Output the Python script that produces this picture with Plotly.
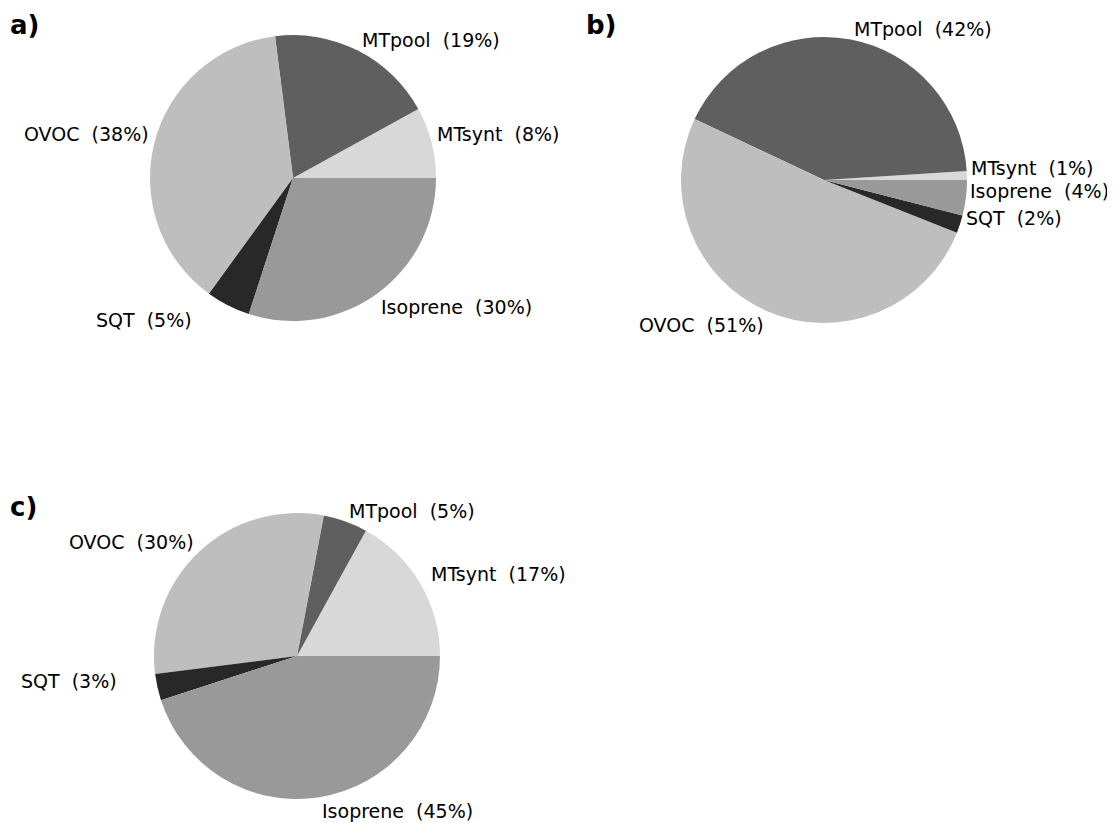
import math
import plotly.graph_objects as go

W, H = 1115, 823          # screenshot size
OFF = 8                   # default body margin of the html page
FW, FH = W - OFF, H - OFF  # figure size

# ---- data ----
categories = ["MTsynt", "MTpool", "OVOC", "SQT", "Isoprene"]
values_a = [8, 19, 38, 5, 30]
values_b = [1, 42, 51, 2, 4]
values_c = [17, 5, 30, 3, 45]
panel_labels = ["a)", "b)", "c)"]

colors = ["#d8d8d8", "#5f5f5f", "#bebebe", "#282828", "#999999"]

# ---- layout (screen-pixel centres / radius of each pie) ----
R = 143
centers = [(293, 178), (824, 180), (297, 656)]
panel_pos = [(8, 8), (584, 8), (8, 490)]
nudges = [
    {"SQT": (-32, 1)},
    {"MTsynt": (-2, 0), "Isoprene": (-2, 0)},
    {"SQT": (-35, 0), "MTsynt": (5, 0)},
]


def xp(px):
    return (px - OFF) / FW


def yp(py):
    return 1 - (py - OFF) / FH


fig = go.Figure()
annotations = []
FONT = "DejaVu Sans"

for k, vals in enumerate([values_a, values_b, values_c]):
    cx, cy = centers[k]
    total = float(sum(vals))
    fig.add_trace(go.Pie(
        labels=categories,
        values=vals,
        sort=False,
        direction="counterclockwise",
        rotation=90 - 360.0 * vals[0] / total,
        marker=dict(colors=colors, line=dict(width=0)),
        textinfo="none",
        hoverinfo="label+percent",
        showlegend=False,
        domain=dict(x=[xp(cx - R), xp(cx + R)],
                    y=[yp(cy + R), yp(cy - R)]),
    ))
    cum = 0.0
    for cat, v in zip(categories, vals):
        mid = (cum + v / 2.0) / total * 2 * math.pi
        cum += v
        rl = R + 4
        px = cx + rl * math.cos(mid)
        py = cy - rl * math.sin(mid)
        xanchor = "left" if math.cos(mid) >= 0 else "right"
        if math.sin(mid) > -0.5:
            yanchor = "bottom"
            py += 6
        else:
            yanchor = "top"
            py -= 3
        dx, dy = nudges[k].get(cat, (0, 0))
        px += dx
        py += dy
        pct = round(v / total * 100)
        annotations.append(dict(
            x=xp(px), y=yp(py), xref="paper", yref="paper",
            text=f"{cat} \u00a0({pct}%)", showarrow=False,
            xanchor=xanchor, yanchor=yanchor,
            font=dict(family=FONT, size=19, color="black"),
        ))

for lab, (lx, ly) in zip(panel_labels, panel_pos):
    annotations.append(dict(
        x=xp(lx), y=yp(ly), xref="paper", yref="paper",
        text=f"<b>{lab}</b>", showarrow=False,
        xanchor="left", yanchor="top",
        font=dict(family="DejaVu Sans", size=26, color="black"),
    ))

fig.update_layout(
    width=FW, height=FH,
    margin=dict(l=0, r=0, t=0, b=0),
    paper_bgcolor="white", plot_bgcolor="white",
    annotations=annotations,
)

fig.write_html("out.html")
